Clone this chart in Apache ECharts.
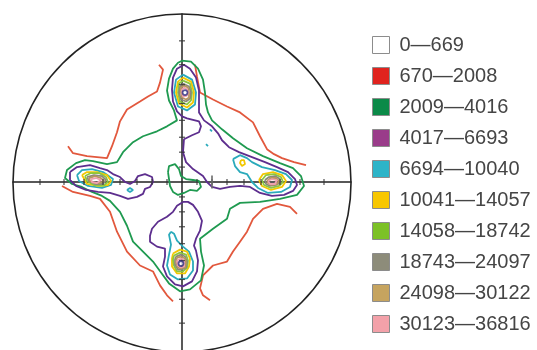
<!DOCTYPE html>
<html>
<head>
<meta charset="utf-8">
<script src="https://cdn.jsdelivr.net/npm/echarts@6/dist/echarts.min.js"></script>
<style>
  html, body { margin: 0; padding: 0; background: #fff; }
  #chart { width: 537px; height: 350px; }
</style>
</head>
<body>
<div id="chart"></div>
<script>
// Pole figure: projection radius (data units) and axis tick positions (10° steps)
const R = 169;
const tickSteps = [15, 30, 45, 62, 79, 98, 118, 142];
const refMark = [[30, 0]];
const peakMax = [[3, 90], [-1, -82]];

// Intensity classes
const levels = ['0—669', '670—2008', '2009—4016', '4017—6693', '6694—10040',
  '10041—14057', '14058—18742', '18743—24097', '24098—30122', '30123—36816'];
const legendColors = ['#ffffff', '#e0231e', '#0b8a48', '#9a3c8a', '#2db4c8',
  '#f8c700', '#7cc126', '#8d8c7a', '#c6a45f', '#f3a1a9'];
const lineColors = ['#ffffff', '#e2583d', '#1f9a50', '#5d2e8e', '#2aaabb',
  '#f2c800', '#8cc63e', '#8a8a7a', '#b8955e', '#eda0ae'];

// Contour lines per class (open lines for 670, closed rings for the others)
const c670 = [
  [[-114,36],[-109,29],[-95,26],[-75,24],[-70,36],[-65,50],[-62,61],[-55,73],[-42,81],[-34,86],[-25,91],[-22,100],[-19,113],[-23,118]],
  [[13,118],[15,106],[18,90],[31,83],[45,76],[58,70],[71,60],[78,46],[85,33],[92,28],[100,24],[112,20],[124,17]],
  [[115,-32],[108,-25],[95,-22],[81,-27],[71,-37],[65,-50],[58,-60],[51,-70],[45,-80],[31,-84],[21,-94],[18,-107],[21,-114],[28,-119]],
  [[-120,-4],[-109,-10],[-92,-14],[-82,-17],[-72,-30],[-65,-50],[-55,-70],[-42,-84],[-29,-90],[-22,-104],[-15,-114],[-9,-120]]
];
const c2009 = [
  [[0,122],[9,121],[16,114],[21,103],[23,90],[24,78],[26,70],[30,62],[40,53],[51,44],[65,34],[81,26],[98,19],[111,14],[119,6],[122,-4],[115,-13],[98,-17],[78,-20],[58,-21],[48,-27],[45,-37],[31,-47],[18,-57],[19,-70],[22,-84],[19,-99],[8,-108],[-2,-110],[-13,-102],[-21,-91],[-29,-80],[-39,-70],[-49,-60],[-55,-44],[-62,-30],[-72,-19],[-80,-14],[-90,-10],[-100,-5],[-110,-2],[-117,4],[-115,12],[-106,19],[-97,22],[-89,21],[-75,18],[-65,20],[-59,30],[-49,40],[-39,46],[-25,51],[-15,56],[-5,62],[-8,72],[-13,82],[-15,92],[-13,104],[-9,114],[-4,120]],
  [[-14,10],[-13,16],[-7,18],[-3,13],[-1,6],[4,3],[11,2],[17,1],[19,-5],[15,-9],[8,-8],[2,-11],[-4,-13],[-9,-10],[-12,-4]]
];
const c4017 = [
  [[2,118],[-5,114],[-9,105],[-10,93],[-9,81],[-5,71],[0,66],[5,64],[17,61],[19,56],[17,50],[10,47],[2,43],[1,30],[4,20],[11,13],[21,6],[25,0],[30,-5],[38,-7],[48,-5],[58,-4],[68,-5],[78,-11],[90,-14],[102,-13],[111,-9],[115,-3],[113,3],[106,10],[95,15],[83,20],[70,25],[57,30],[47,35],[40,42],[36,49],[30,56],[22,62],[17,70],[17,80],[17,92],[14,105],[8,114]],
  [[1,-20],[-5,-24],[-9,-30],[-15,-35],[-24,-40],[-30,-47],[-32,-54],[-32,-60],[-25,-65],[-17,-67],[-17,-75],[-19,-85],[-15,-95],[-7,-103],[1,-105],[10,-100],[15,-90],[16,-79],[14,-69],[12,-64],[14,-57],[18,-49],[20,-39],[16,-30],[11,-23],[6,-20]],
  [[-112,10],[-105,15],[-92,17],[-82,14],[-75,12],[-69,8],[-62,5],[-57,0],[-52,-2],[-47,1],[-44,6],[-37,8],[-30,5],[-29,0],[-32,-5],[-37,-7],[-39,-12],[-45,-15],[-54,-17],[-62,-14],[-72,-11],[-84,-10],[-96,-8],[-106,-4],[-112,2]]
];
const c6694 = [
  [[1,108],[10,103],[14,90],[13,78],[5,72],[-4,76],[-8,90],[-6,103]],
  [[51,23],[58,27],[65,24],[70,20],[80,15],[93,12],[104,8],[110,2],[108,-5],[99,-10],[86,-11],[76,-6],[70,0],[65,8],[58,10],[53,16]],
  [[-11,-50],[-8,-52],[-5,-59],[1,-65],[7,-70],[11,-80],[11,-89],[5,-97],[-4,-98],[-12,-93],[-15,-84],[-13,-73],[-11,-63],[-13,-53]],
  [[-105,7],[-100,12],[-90,13],[-79,10],[-69,3],[-71,-3],[-80,-6],[-94,-4],[-103,1]],
  [[-55,-8],[-52,-6],[-49,-8],[-52,-10]],
  [[28,53],[30,53],[30,51],[28,51]],
  [[24,38],[26,38],[26,36],[24,36]]
];
const c10041 = [
  [[1,105],[9,101],[12,90],[11,80],[5,75],[-3,79],[-6,90],[-4,101]],
  [[77,2],[81,8],[91,10],[100,7],[104,1],[100,-5],[89,-8],[80,-4]],
  [[59,22],[62,22],[63,18],[60,16],[58,19]],
  [[-9,-72],[-2,-68],[5,-70],[8,-77],[7,-85],[3,-92],[-5,-92],[-10,-85],[-10,-77]],
  [[-100,7],[-95,10],[-85,10],[-75,7],[-71,1],[-74,-3],[-84,-4],[-95,-2]]
];
const c14058 = [
  [[1,102],[8,99],[10,90],[9,82],[5,78],[-2,81],[-4,90],[-3,99]],
  [[80,2],[84,7],[92,8],[99,5],[101,0],[97,-4],[89,-6],[82,-3]],
  [[-8,-74],[-2,-71],[4,-73],[6,-79],[5,-86],[1,-90],[-5,-90],[-8,-84],[-9,-78]],
  [[-97,6],[-91,9],[-83,9],[-76,5],[-74,0],[-79,-4],[-88,-3],[-95,1]]
];
const c18743 = [
  [[1,99],[7,96],[9,90],[8,84],[4,81],[-1,83],[-3,90],[-2,96]],
  [[83,2],[87,5],[93,6],[98,3],[98,-1],[94,-3],[88,-4],[84,-2]],
  [[-6,-75],[-1,-73],[3,-75],[5,-80],[4,-86],[0,-88],[-4,-88],[-7,-83],[-7,-78]],
  [[-95,5],[-88,7],[-80,6],[-76,2],[-79,-2],[-87,-2],[-93,1]]
];
const c24098 = [
  [[2,97],[6,95],[7,90],[7,85],[4,83],[0,85],[-1,90],[-1,95]],
  [[85,1],[89,4],[94,4],[97,1],[95,-2],[89,-3],[86,-1]],
  [[-5,-76],[-1,-75],[3,-77],[4,-81],[3,-86],[-1,-87],[-4,-86],[-6,-81]],
  [[-93,4],[-87,6],[-81,4],[-78,1],[-82,-1],[-88,-1],[-92,1]]
];
const c30123 = [
  [[2,95],[5,93],[6,90],[5,87],[4,85],[1,86],[0,90],[0,93]],
  [[86,1],[90,3],[95,2],[96,0],[93,-2],[88,-2]],
  [[-4,-78],[0,-77],[2,-80],[2,-85],[-1,-86],[-4,-84],[-5,-80]],
  [[-91,3],[-86,4],[-81,2],[-80,0],[-85,-1],[-90,0]]
];

const contourSets = [[], c670, c2009, c4017, c6694, c10041, c14058, c18743, c24098, c30123];

const series = [];
levels.forEach((name, i) => {
  const lines = contourSets[i];
  const closed = i >= 2;
  const base = {
    type: 'line', name, xAxisIndex: 0, yAxisIndex: 0,
    symbol: 'none', showSymbol: false, silent: true, animation: false,
    itemStyle: { color: legendColors[i] },
    lineStyle: { color: lineColors[i], width: 1.8 },
    emphasis: { disabled: true }, z: 2 + i
  };
  if (!lines.length) {
    series.push(Object.assign({}, base, { data: [] }));
  }
  lines.forEach(l => {
    series.push(Object.assign({}, base, { data: closed ? l.concat([l[0]]) : l }));
  });
});

// axis tick marks along the crosshair
const hTicks = [], vTicks = [];
tickSteps.forEach(t => {
  hTicks.push([t, 0], [-t, 0]);
  vTicks.push([0, t], [0, -t]);
});
series.push({
  type: 'scatter', silent: true, animation: false, symbol: 'rect',
  symbolSize: [1.3, 6], data: hTicks, itemStyle: { color: '#333' }, z: 20
});
series.push({
  type: 'scatter', silent: true, animation: false, symbol: 'rect',
  symbolSize: [6, 1.3], data: vTicks, itemStyle: { color: '#333' }, z: 20
});
series.push({
  type: 'scatter', silent: true, animation: false, symbol: 'rect',
  symbolSize: [2, 13], data: refMark, itemStyle: { color: '#6a6a6a' }, z: 21
});
series.push({
  type: 'scatter', silent: true, animation: false, symbol: 'circle',
  symbolSize: 5, data: peakMax,
  itemStyle: { color: '#ffffff', borderColor: '#2c2c80', borderWidth: 1.8 }, z: 30
});
// outer circle of the projection
series.push({
  type: 'line', coordinateSystem: 'polar', data: [], silent: true, symbol: 'none'
});

const chart = echarts.init(document.getElementById('chart'), null, { renderer: 'canvas' });
chart.setOption({
  animation: false,
  backgroundColor: '#ffffff',
  grid: { left: 13, top: 14, width: 2 * R, height: 2 * R },
  xAxis: {
    type: 'value', min: -R, max: R,
    axisLine: { show: true, onZero: true, lineStyle: { color: '#222', width: 1.5 } },
    axisTick: { show: false }, axisLabel: { show: false }, splitLine: { show: false }
  },
  yAxis: {
    type: 'value', min: -R, max: R,
    axisLine: { show: true, onZero: true, lineStyle: { color: '#222', width: 1.5 } },
    axisTick: { show: false }, axisLabel: { show: false }, splitLine: { show: false }
  },
  polar: { center: [13 + R, 14 + R], radius: R },
  angleAxis: {
    axisLine: { show: true, lineStyle: { color: '#222', width: 1.6 } },
    axisTick: { show: false }, axisLabel: { show: false }, splitLine: { show: false }
  },
  radiusAxis: { show: false, min: 0, max: 1 },
  legend: {
    data: levels,
    orient: 'vertical',
    left: 372, top: 35, padding: 0,
    icon: 'rect',
    itemWidth: 17, itemHeight: 17, itemGap: 11,
    selectedMode: false,
    itemStyle: { borderColor: '#8c8c8c', borderWidth: 1 },
    textStyle: { fontFamily: 'Liberation Sans', fontSize: 20, color: '#454545', padding: [0, 0, 0, 5] }
  },
  series
});
</script>
</body>
</html>
